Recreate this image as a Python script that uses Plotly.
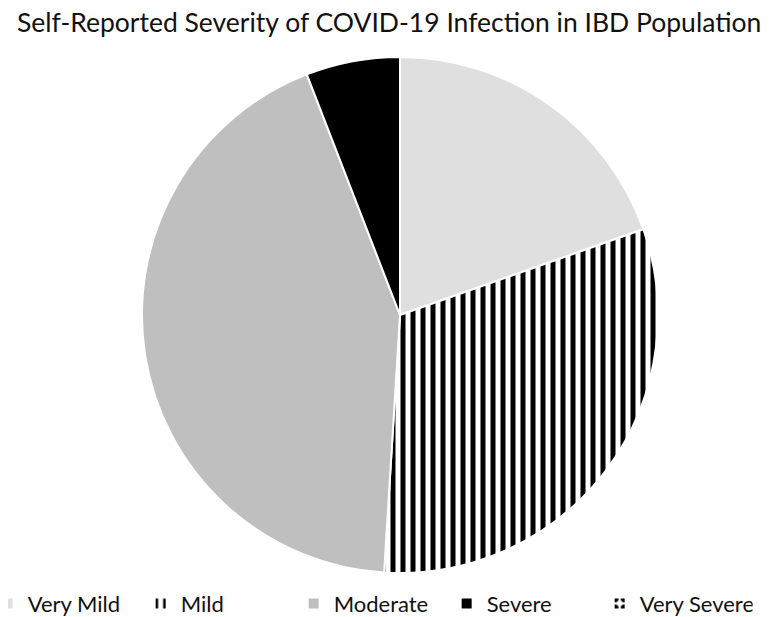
import plotly.graph_objects as go

categories = ["Very Mild", "Mild", "Moderate", "Severe", "Very Severe"]
counts = [10, 16, 22, 3, 0]
colors = ["#dfdfdf", "#ffffff", "#bfbfbf", "#000000", "#ffffff"]
shapes = ["", "|", "", "", "."]

fig = go.Figure(go.Pie(
    labels=categories,
    values=counts,
    sort=False,
    direction="clockwise",
    rotation=0,
    textinfo="none",
    hoverinfo="label+value+percent",
    marker=dict(
        colors=colors,
        line=dict(color="white", width=2),
        pattern=dict(shape=shapes, fgcolor="black", bgcolor="white", size=10, solidity=0.5),
    ),
))

fig.update_layout(
    width=781, height=617,
    paper_bgcolor="white", plot_bgcolor="white",
    margin=dict(l=3, r=0, t=49, b=52, autoexpand=False),
    title=dict(text="Self-Reported Severity of COVID-19 Infection in IBD Population",
               x=0.488, xanchor="center", y=0.992, yanchor="top",
               font=dict(family="Lato", size=26.5, color="#111111")),
    legend=dict(orientation="h", x=-0.03, xanchor="left", y=-0.1, yanchor="bottom",
                bgcolor="rgba(0,0,0,0)",
                font=dict(family="Lato", size=22, color="#111111"),
                itemwidth=30, entrywidth=108, entrywidthmode="pixels",
                traceorder="normal"),
)

fig.write_html("out.html")
